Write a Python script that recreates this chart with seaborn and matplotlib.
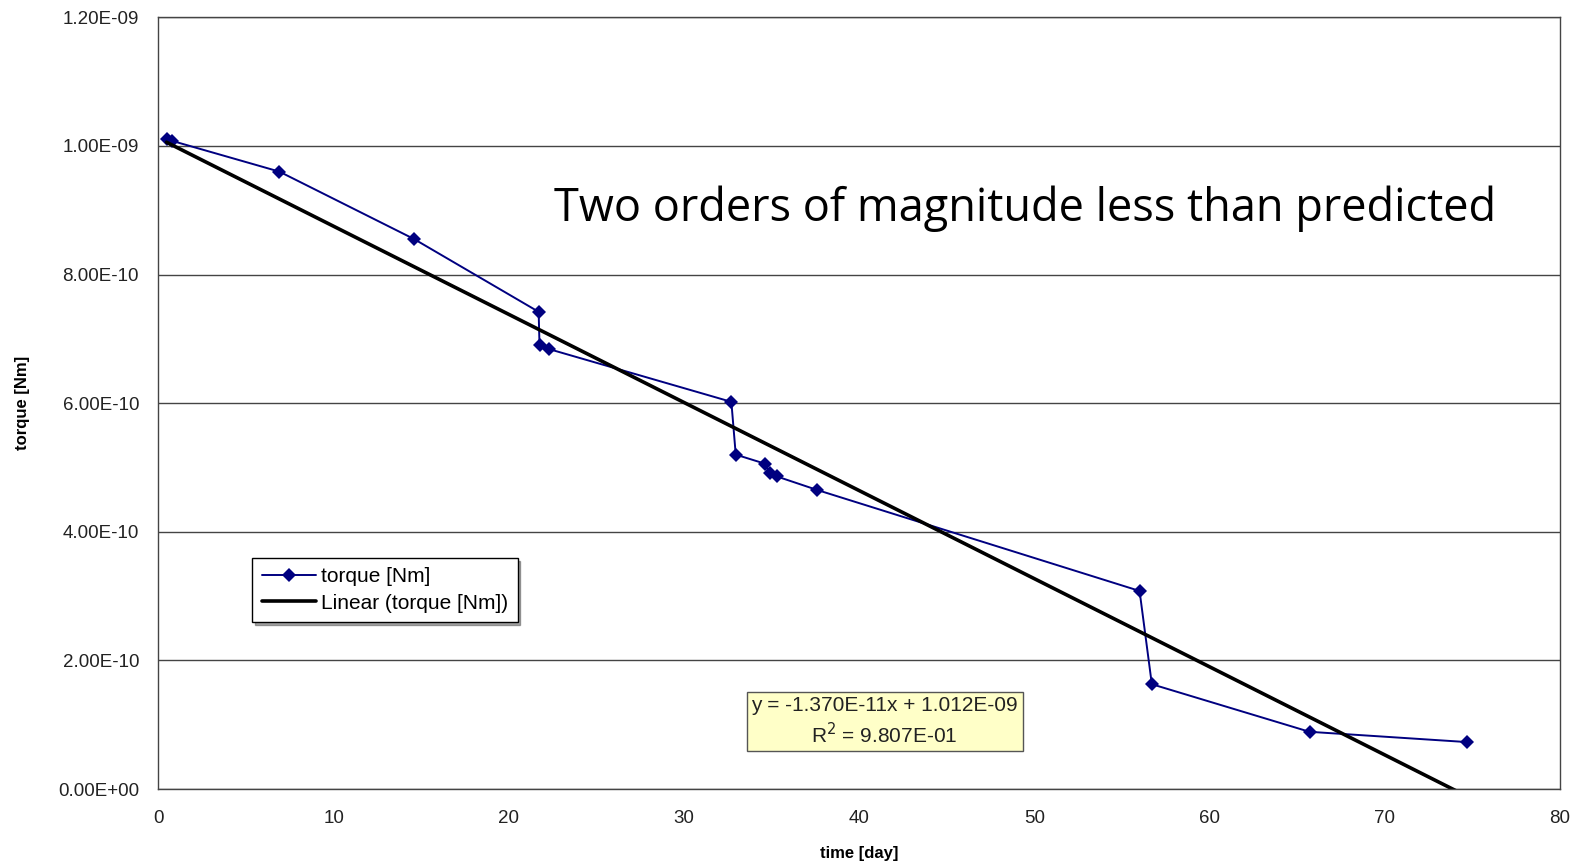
import numpy as np
import pandas as pd
import matplotlib
matplotlib.use("Agg")
import matplotlib.pyplot as plt
import seaborn as sns

days = [0.46, 0.75, 6.9, 14.6, 21.7, 21.75, 22.3, 32.7, 32.95, 34.6, 34.9, 35.3, 37.6,
        56.0, 56.7, 65.7, 74.7]
torque = [1.011e-09, 1.008e-09, 9.60e-10, 8.55e-10, 7.42e-10, 6.90e-10, 6.84e-10, 6.02e-10,
          5.20e-10, 5.06e-10, 4.91e-10, 4.86e-10, 4.65e-10, 3.08e-10, 1.63e-10, 8.9e-11, 7.3e-11]

# Excel linear trendline
slope = -1.370e-11
intercept = 1.012e-09
r2 = 9.807e-01

x_ticks = [0, 10, 20, 30, 40, 50, 60, 70, 80]
y_ticks = [0.0, 2e-10, 4e-10, 6e-10, 8e-10, 1.0e-09, 1.2e-09]

df = pd.DataFrame({"day": days, "torque": torque})
trend_x = np.array([min(days), max(days)])
trend = pd.DataFrame({"day": trend_x, "torque": slope * trend_x + intercept})

sns.set_style("white")
plt.rcParams['font.family'] = ['Liberation Sans', 'DejaVu Sans']
plt.rcParams['text.color'] = 'black'

fig = plt.figure(figsize=(15.83, 8.63), dpi=100)
ax = fig.add_axes([0.1001, 0.0857, 0.8854, 0.8943])

sns.lineplot(data=df, x="day", y="torque", sort=False, color="#000080", lw=1.4,
             marker="D", markersize=7, markeredgewidth=0, label="torque [Nm]", ax=ax)
sns.lineplot(data=trend, x="day", y="torque", color="black", lw=2.6,
             label="Linear (torque [Nm])", ax=ax)

ax.set_xlim(0, 80)
ax.set_ylim(0, 1.2e-09)
ax.set_xticks(x_ticks)
ax.set_yticks(y_ticks)
ax.set_yticklabels([f"{v:.2E}" for v in y_ticks])
ax.yaxis.grid(True, color="#444444", lw=1)
ax.xaxis.grid(False)
for sp in ax.spines.values():
    sp.set_color("#444444")
    sp.set_linewidth(1)
ax.tick_params(axis="both", direction="out", length=5, width=1, color="#444444",
               labelsize=13.5, labelcolor="#222222")
ax.tick_params(axis="x", pad=10)
ax.tick_params(axis="y", pad=9)

ax.set_xlabel("time [day]", fontsize=12, fontweight="bold", labelpad=14, color="black")
ax.set_ylabel("torque [Nm]", fontsize=12, fontweight="bold", color="black")
ax.yaxis.set_label_coords(-0.092, 0.5)

ax.text(22.6, 9.02e-10, "Two orders of magnitude less than predicted",
        fontsize=32.5, family="Open Sans", va="center", ha="left", color="black")

ax.text(41.45, 1.05e-10,
        f"y = {slope:.3E}x + {intercept:.3E}\nR$^2$ = {r2:.3E}",
        fontsize=15, ha="center", va="center", linespacing=1.3, color="#222222",
        bbox=dict(boxstyle="square,pad=0.22", fc="#FFFFC8", ec="#555555", lw=1))

leg = ax.legend(loc="upper left", bbox_to_anchor=(0.067, 0.2993), borderaxespad=0,
                frameon=True, fancybox=False, shadow=True, fontsize=15,
                handlelength=2.6, borderpad=0.45, labelspacing=0.35, handletextpad=0.25)
leg.get_frame().set_edgecolor("black")
leg.get_frame().set_linewidth(1)

fig.savefig("out.png", dpi=100)
